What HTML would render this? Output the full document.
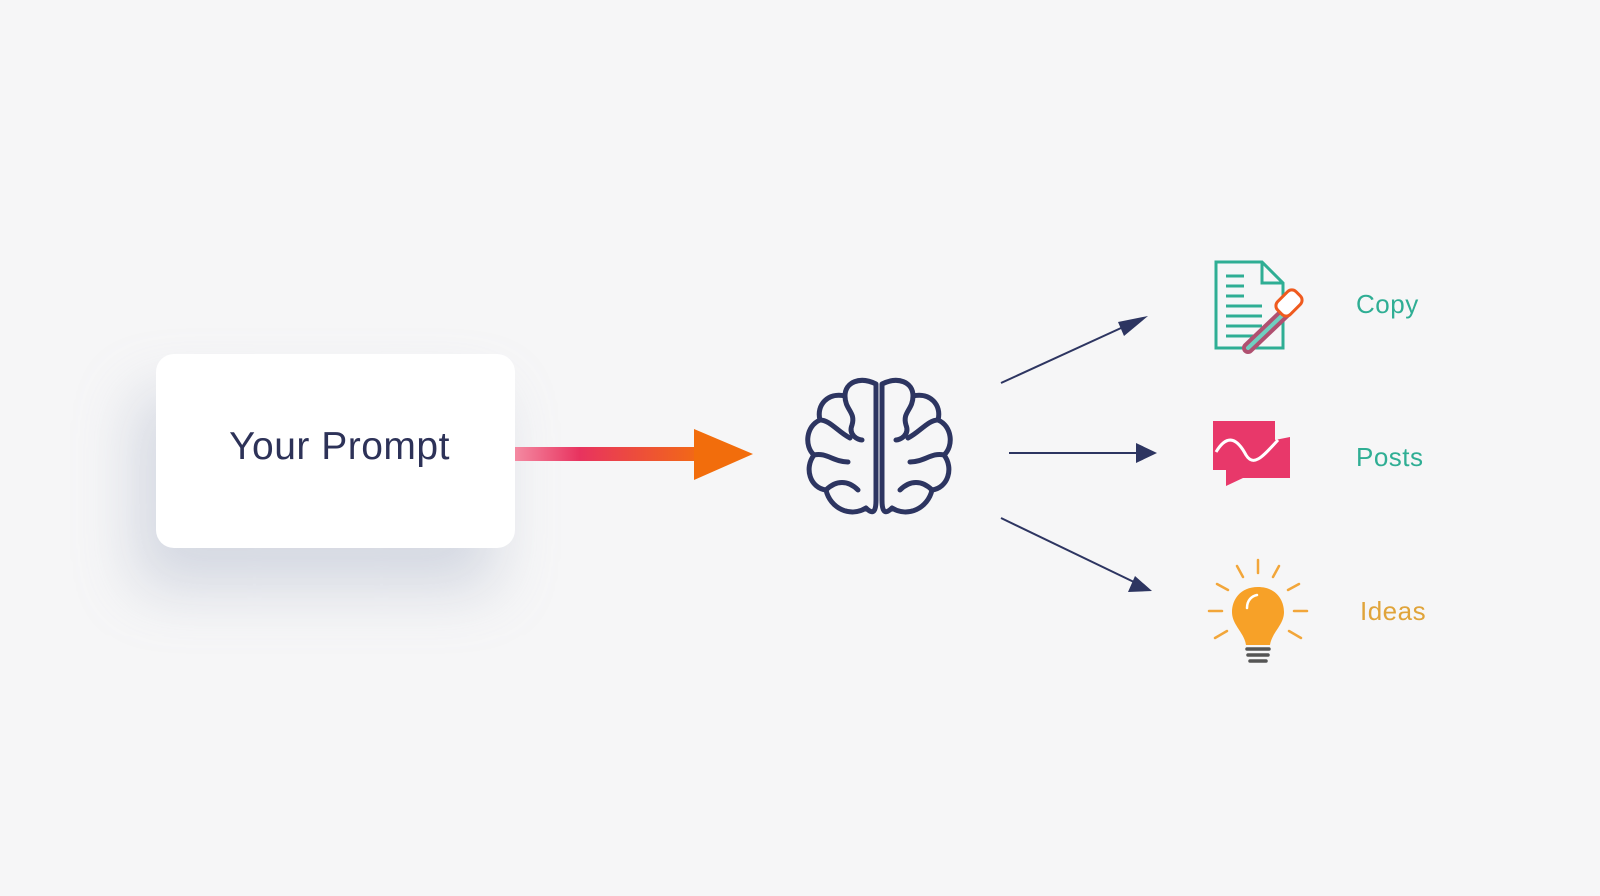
<!DOCTYPE html>
<html><head><meta charset="utf-8"><style>
html,body{margin:0;padding:0}
body{width:1600px;height:896px;background:#f6f6f7;position:relative;overflow:hidden;font-family:"Liberation Sans",sans-serif}
.card{position:absolute;left:156px;top:354px;width:359px;height:194px;background:#fff;border-radius:18px;box-shadow:-20px 40px 60px rgba(150,160,185,0.35)}
.card span{position:absolute;left:0;right:0;top:71px;text-align:center;font-size:39px;letter-spacing:0.5px;color:#2d3258;padding-left:8px}
.lbl{position:absolute;font-size:26px;letter-spacing:0.5px}
</style></head><body>
<div class="card"><span>Your Prompt</span></div>
<svg width="1600" height="896" style="position:absolute;left:0;top:0">
<defs><linearGradient id="g" x1="515" x2="700" y1="0" y2="0" gradientUnits="userSpaceOnUse">
<stop offset="0" stop-color="#f48aa2"/><stop offset="0.35" stop-color="#e8335f"/><stop offset="1" stop-color="#f26a14"/></linearGradient></defs>
<rect x="515" y="447" width="182" height="14" fill="url(#g)"/>
<polygon points="694,429 753,454 694,480" fill="#f26d0c"/>
<g fill="none" stroke="#2d3561" stroke-width="5" stroke-linecap="round" stroke-linejoin="round">
<path d="M876,384 C860,376 845,382 845,396 C828,392 816,405 820,420 C806,426 804,446 814,455 C804,468 810,488 826,490 C830,508 850,518 866,508 C874,516 876,510 876,500 Z"/>
<path d="M882,384 C898,376 913,382 913,396 C930,392 942,405 938,420 C952,426 954,446 944,455 C954,468 948,488 932,490 C928,508 908,518 892,508 C884,516 882,510 882,500 Z"/>
<path d="M845,396 C845,410 856,412 852,425 C848,435 858,440 862,440"/>
<path d="M820,420 C830,420 838,432 850,438"/>
<path d="M814,455 C826,452 834,462 848,462"/>
<path d="M826,490 C836,480 848,480 858,490"/>
<path d="M913,396 C913,410 902,412 906,425 C910,435 900,440 896,440"/>
<path d="M938,420 C928,420 920,432 908,438"/>
<path d="M944,455 C932,452 924,462 910,462"/>
<path d="M932,490 C922,480 910,480 900,490"/>
</g>
<g stroke="#2d3561" stroke-width="2" fill="#2d3561">
<line x1="1001" y1="383" x2="1132" y2="323"/><polygon points="1148,316 1124,336 1118,322" stroke="none"/>
<line x1="1009" y1="453" x2="1140" y2="453"/><polygon points="1157,453 1136,443 1136,463" stroke="none"/>
<line x1="1001" y1="518" x2="1136" y2="583"/><polygon points="1152,591 1128,592 1135,576" stroke="none"/>
</g>
<g fill="none" stroke="#2fae94" stroke-width="3">
<path d="M1216,262 H1262 L1283,283 V348 H1216 Z"/><path d="M1262,262 V283 H1283"/>
<path d="M1226,276h18M1226,286h18M1226,296h18M1226,306h36M1226,316h36M1226,326h36M1226,336h30"/>
</g>
<g stroke-linecap="round">
<line x1="1248" y1="348" x2="1290" y2="308" stroke="#b05070" stroke-width="12"/>
<line x1="1248" y1="348" x2="1290" y2="308" stroke="#6fd0c0" stroke-width="4"/>
<rect x="1280" y="290" width="18" height="26" rx="6" transform="rotate(45 1289 303)" fill="#fff" stroke="#ef5a1e" stroke-width="3"/>
</g>
<path d="M1213,421 H1275 V446 L1275,440 L1290,437 V478 H1243 L1226,486 V470 H1213 Z" fill="#e8386a"/>
<path d="M1216,452 C1228,432 1238,440 1246,455 C1254,468 1264,455 1278,440" fill="none" stroke="#fff" stroke-width="3"/>
<g stroke="#f2a63a" stroke-width="2.5" stroke-linecap="round">
<line x1="1258" y1="560" x2="1258" y2="573"/><line x1="1237" y1="566" x2="1243" y2="577"/><line x1="1279" y1="566" x2="1273" y2="577"/>
<line x1="1217" y1="584" x2="1228" y2="590"/><line x1="1299" y1="584" x2="1288" y2="590"/>
<line x1="1209" y1="611" x2="1222" y2="611"/><line x1="1294" y1="611" x2="1307" y2="611"/>
<line x1="1215" y1="638" x2="1227" y2="631"/><line x1="1301" y1="638" x2="1289" y2="631"/>
</g>
<path d="M1258,587 C1240,587 1232,600 1232,612 C1232,625 1244,632 1246,645 H1270 C1272,632 1284,625 1284,612 C1284,600 1276,587 1258,587 Z" fill="#f7a128"/>
<path d="M1247,608 C1247,600 1252,596 1257,595" stroke="#fff" stroke-width="2.5" fill="none" stroke-linecap="round"/>
<g stroke="#555" stroke-width="3.5" stroke-linecap="round"><line x1="1247" y1="649" x2="1269" y2="649"/><line x1="1248" y1="655" x2="1268" y2="655"/><line x1="1250" y1="661" x2="1266" y2="661"/></g>
</svg>
<div class="lbl" style="left:1356px;top:289px;color:#2fae94">Copy</div>
<div class="lbl" style="left:1356px;top:442px;color:#2fae94">Posts</div>
<div class="lbl" style="left:1360px;top:596px;color:#e0a43a">Ideas</div>
</body></html>
